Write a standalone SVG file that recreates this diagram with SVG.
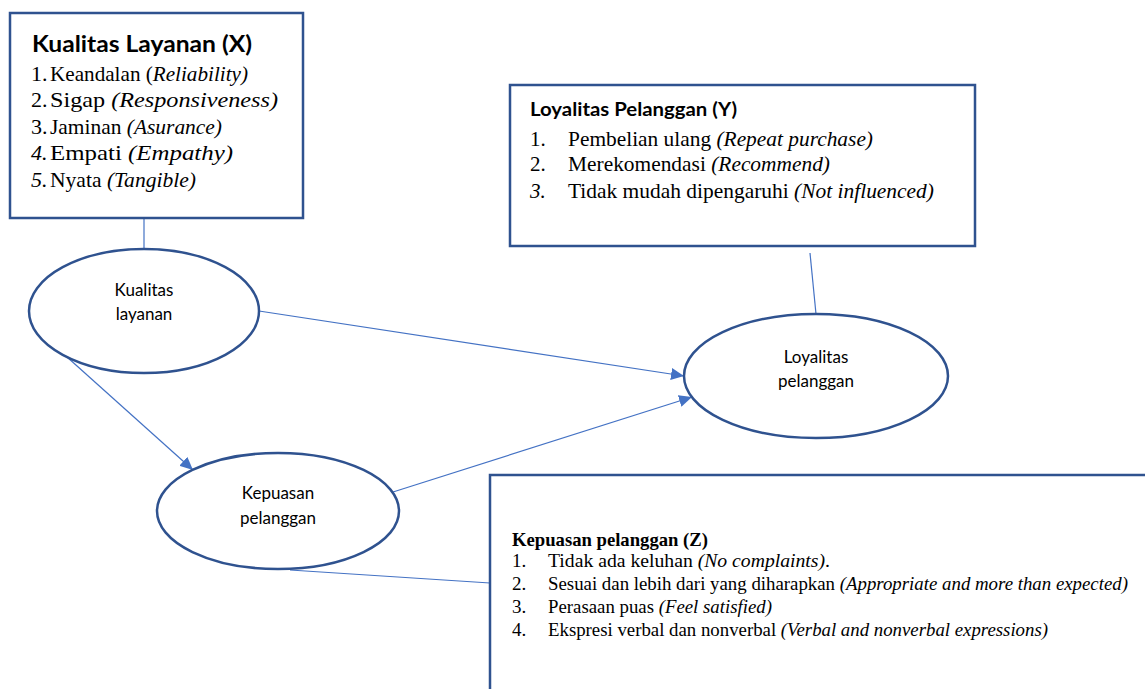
<svg xmlns="http://www.w3.org/2000/svg" width="1145" height="689" viewBox="0 0 1145 689">
<defs>
<marker id="ah" markerUnits="userSpaceOnUse" markerWidth="14" markerHeight="12" refX="13" refY="6" orient="auto">
<path d="M0,0 L13,6 L0,12 Z" fill="#4472C4"/>
</marker>
<style>
.box{fill:#fff;stroke:#2F528F;stroke-width:2.5}
.ell{fill:#fff;stroke:#2F528F;stroke-width:2.5}
.con{stroke:#4472C4;stroke-width:1.2;fill:none}
.hs{font-family:Lato,"Liberation Sans",sans-serif;font-weight:bold;fill:#000}
.tm{font-family:'Liberation Serif',serif;fill:#000}
.it{font-style:italic}
.el{font-family:Lato,"Liberation Sans",sans-serif;font-size:17px;fill:#000;text-anchor:middle}
</style>
</defs>
<rect width="1145" height="689" fill="#fff"/>
<g id="connectors">
<line class="con" x1="144" y1="218" x2="144" y2="250"/>
<line class="con" x1="810" y1="253" x2="816" y2="314"/>
<line class="con" x1="290" y1="570" x2="490" y2="583"/>
<line class="con" x1="259" y1="311" x2="684" y2="376" marker-end="url(#ah)"/>
<line class="con" x1="67" y1="357" x2="193" y2="470" marker-end="url(#ah)"/>
<line class="con" x1="393" y1="492" x2="692" y2="397" marker-end="url(#ah)"/>
</g>
<g id="box-x">
<rect class="box" x="10" y="13" width="293" height="205"/>
<text class="hs" x="32" y="52" font-size="23" textLength="220" lengthAdjust="spacingAndGlyphs">Kualitas Layanan (X)</text>
<g font-size="22">
<text class="tm" x="31" y="81">1.</text><text class="tm" x="50" y="81" textLength="198" lengthAdjust="spacingAndGlyphs">Keandalan (<tspan class="it">Reliability)</tspan></text>
<text class="tm" x="31" y="107">2.</text><text class="tm" x="50" y="107" textLength="228" lengthAdjust="spacingAndGlyphs">Sigap <tspan class="it">(Responsiveness)</tspan></text>
<text class="tm" x="31" y="134">3.</text><text class="tm" x="50" y="134" textLength="172" lengthAdjust="spacingAndGlyphs">Jaminan <tspan class="it">(Asurance)</tspan></text>
<text class="tm it" x="31" y="160">4.</text><text class="tm" x="50" y="160" textLength="183" lengthAdjust="spacingAndGlyphs">Empati <tspan class="it">(Empathy)</tspan></text>
<text class="tm it" x="31" y="187">5.</text><text class="tm" x="50" y="187" textLength="146" lengthAdjust="spacingAndGlyphs">Nyata <tspan class="it">(Tangible)</tspan></text>
</g>
</g>
<g id="box-y">
<rect class="box" x="510" y="85" width="465" height="161"/>
<text class="hs" x="530" y="116" font-size="18" textLength="207" lengthAdjust="spacingAndGlyphs">Loyalitas Pelanggan (Y)</text>
<g font-size="21">
<text class="tm" x="530" y="146">1.</text><text class="tm" x="568" y="146" textLength="305" lengthAdjust="spacingAndGlyphs">Pembelian ulang <tspan class="it">(Repeat purchase)</tspan></text>
<text class="tm" x="530" y="171">2.</text><text class="tm" x="568" y="171" textLength="262" lengthAdjust="spacingAndGlyphs">Merekomendasi <tspan class="it">(Recommend)</tspan></text>
<text class="tm it" x="530" y="198">3.</text><text class="tm" x="568" y="198" textLength="366" lengthAdjust="spacingAndGlyphs">Tidak mudah dipengaruhi <tspan class="it">(Not influenced)</tspan></text>
</g>
</g>
<g id="box-z">
<rect class="box" x="490" y="475" width="700" height="300"/>
<g font-size="19">
<text class="tm" x="512" y="546" font-weight="bold" textLength="196" lengthAdjust="spacingAndGlyphs">Kepuasan pelanggan (Z)</text>
<text class="tm" x="512" y="567">1.</text><text class="tm" x="548" y="567" textLength="282" lengthAdjust="spacingAndGlyphs">Tidak ada keluhan <tspan class="it">(No complaints)</tspan>.</text>
<text class="tm" x="512" y="590">2.</text><text class="tm" x="548" y="590" textLength="580" lengthAdjust="spacingAndGlyphs">Sesuai dan lebih dari yang diharapkan <tspan class="it">(Appropriate and more than expected)</tspan></text>
<text class="tm" x="512" y="613">3.</text><text class="tm" x="548" y="613" textLength="224" lengthAdjust="spacingAndGlyphs">Perasaan puas <tspan class="it">(Feel satisfied)</tspan></text>
<text class="tm" x="512" y="636">4.</text><text class="tm" x="548" y="636" textLength="500" lengthAdjust="spacingAndGlyphs">Ekspresi verbal dan nonverbal <tspan class="it">(Verbal and nonverbal expressions)</tspan></text>
</g>
</g>
<g id="node-kualitas">
<ellipse class="ell" cx="144" cy="311" rx="115" ry="62"/>
<text class="el" x="144" y="296">Kualitas</text>
<text class="el" x="144" y="320">layanan</text>
</g>
<g id="node-kepuasan">
<ellipse class="ell" cx="278" cy="511" rx="121" ry="58"/>
<text class="el" x="278" y="499">Kepuasan</text>
<text class="el" x="278" y="524">pelanggan</text>
</g>
<g id="node-loyalitas">
<ellipse class="ell" cx="816" cy="376" rx="132" ry="62"/>
<text class="el" x="816" y="363">Loyalitas</text>
<text class="el" x="816" y="387">pelanggan</text>
</g>
</svg>
